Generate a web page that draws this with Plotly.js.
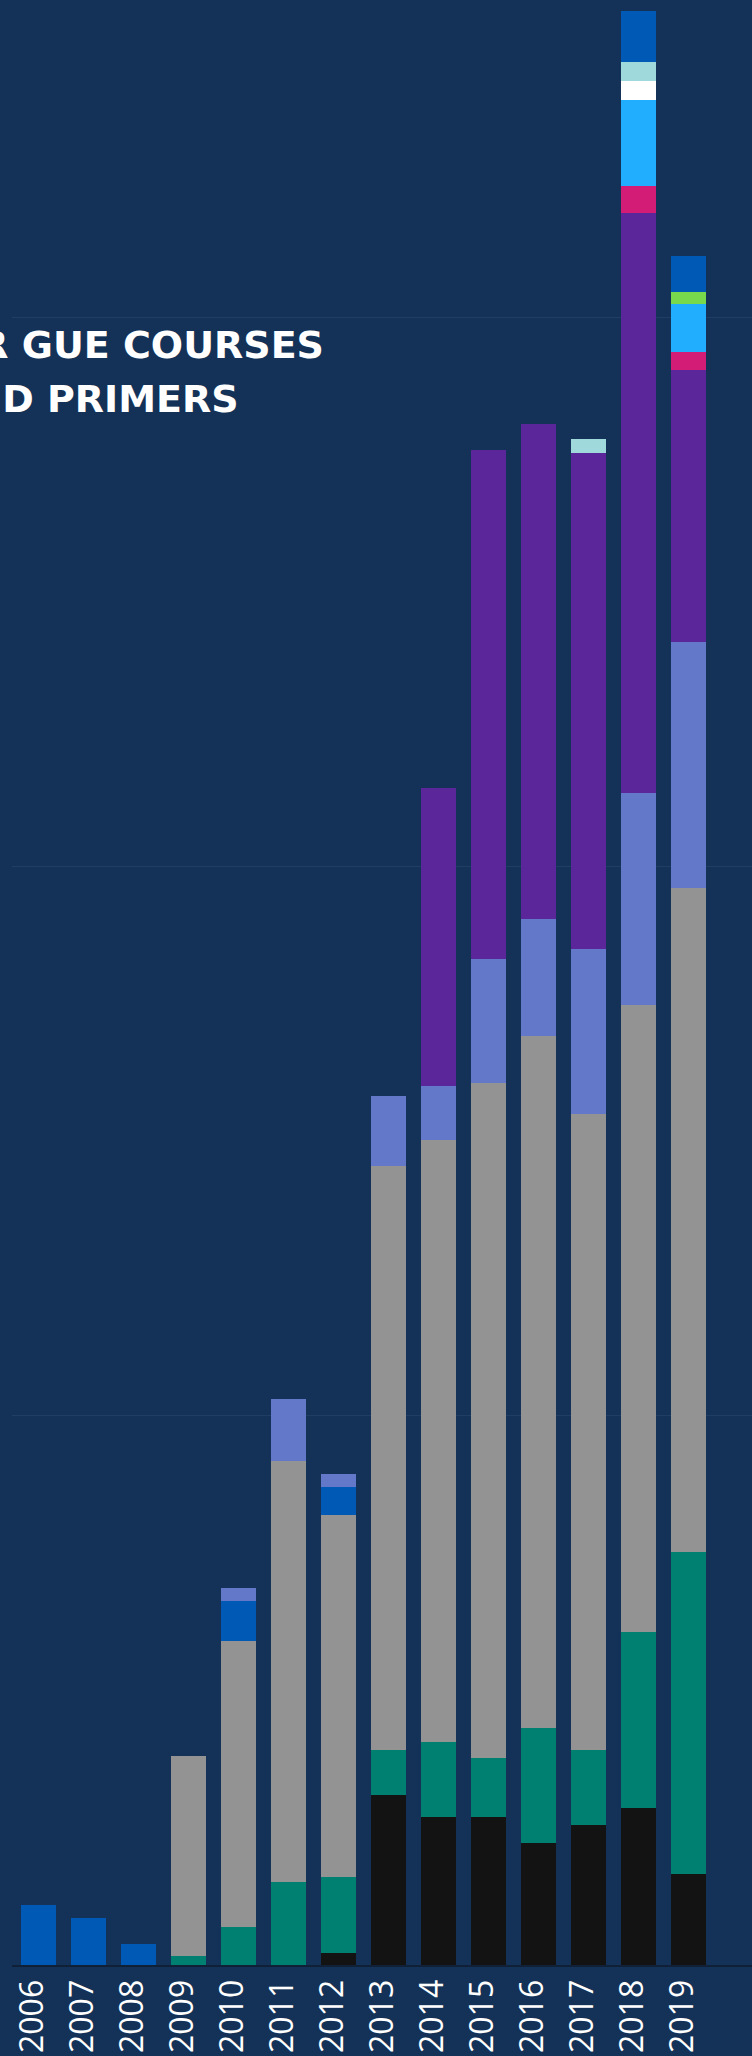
<!DOCTYPE html>
<html>
<head>
<meta charset="utf-8">
<script src="https://cdn.plot.ly/plotly-3.0.1.min.js"></script>
<style>
html,body{margin:0;padding:0;background:#143257;}
#chart{width:752px;height:2056px;}
</style>
</head>
<body>
<div id="chart"></div>
<script>
// Data
const years = ["2006","2007","2008","2009","2010","2011","2012","2013","2014","2015","2016","2017","2018","2019"];
const seriesBlack      = [0, 0, 0, 0, 0, 0, 11, 155, 135, 135, 111, 127, 143, 83];
const seriesTeal       = [0, 0, 0, 8, 35, 76, 69, 41, 68, 53, 105, 69, 160, 293];
const seriesGrey       = [0, 0, 0, 182, 260, 383, 330, 531, 548, 615, 630, 579, 571, 604];
const seriesBlue       = [55, 43, 19, 0, 36, 0, 25, 0, 0, 0, 0, 0, 0, 0];
const seriesPeriwinkle = [0, 0, 0, 0, 12, 56, 12, 64, 49, 113, 106, 150, 193, 224];
const seriesPurple     = [0, 0, 0, 0, 0, 0, 0, 0, 271, 463, 451, 451, 528, 248];
const seriesMagenta    = [0, 0, 0, 0, 0, 0, 0, 0, 0, 0, 0, 0, 24, 16];
const seriesLightBlue  = [0, 0, 0, 0, 0, 0, 0, 0, 0, 0, 0, 0, 79, 44];
const seriesWhite      = [0, 0, 0, 0, 0, 0, 0, 0, 0, 0, 0, 0, 17, 0];
const seriesLightTeal  = [0, 0, 0, 0, 0, 0, 0, 0, 0, 0, 0, 13, 17, 0];
const seriesGreen      = [0, 0, 0, 0, 0, 0, 0, 0, 0, 0, 0, 0, 0, 11];
const seriesBlueTop    = [0, 0, 0, 0, 0, 0, 0, 0, 0, 0, 0, 0, 47, 33];
const titleLines = ["FOR GUE COURSES", "AND PRIMERS"];

const stack = [
  {name: "Black", y: seriesBlack, color: "#131313"},
  {name: "Teal", y: seriesTeal, color: "#008070"},
  {name: "Grey", y: seriesGrey, color: "#939393"},
  {name: "Blue", y: seriesBlue, color: "#0059B5"},
  {name: "Periwinkle", y: seriesPeriwinkle, color: "#6478C9"},
  {name: "Purple", y: seriesPurple, color: "#5B2699"},
  {name: "Magenta", y: seriesMagenta, color: "#D31C75"},
  {name: "Light blue", y: seriesLightBlue, color: "#22AEFF"},
  {name: "White", y: seriesWhite, color: "#FFFFFF"},
  {name: "Light teal", y: seriesLightTeal, color: "#A0D9DB"},
  {name: "Green", y: seriesGreen, color: "#77D94B"},
  {name: "Blue top", y: seriesBlueTop, color: "#0059B5"}
];

const traces = stack.map(s => ({
  type: "bar",
  name: s.name,
  x: years,
  y: s.y,
  marker: {color: s.color, line: {width: 0}},
  hoverinfo: "skip"
}));

const layout = {
  width: 752,
  height: 2056,
  margin: {l: 12, r: 0, t: 0, b: 91, pad: 0},
  paper_bgcolor: "#143257",
  plot_bgcolor: "#143257",
  barmode: "stack",
  bargap: 0.3,
  showlegend: false,
  xaxis: {
    type: "category",
    range: [-0.526, 14.27],
    tickangle: -90,
    ticklabelshift: -6,
    tickfont: {family: "Open Sans", size: 32, color: "#FFFFFF"},
    showline: true,
    linecolor: "#0f2037",
    linewidth: 2,
    ticks: "",
    showgrid: false,
    zeroline: false
  },
  yaxis: {
    range: [0, 1788.6],
    tick0: 0,
    dtick: 500,
    showticklabels: false,
    showgrid: true,
    gridcolor: "#1f3e65",
    gridwidth: 1,
    zeroline: false,
    ticks: ""
  },
  annotations: [
    {text: titleLines[0], xref: "paper", yref: "paper", x: 0.424, y: 0.8244, xanchor: "right", yanchor: "middle", showarrow: false,
     font: {family: "DejaVu Sans", size: 38, color: "#FFFFFF", weight: "bold"}},
    {text: titleLines[1], xref: "paper", yref: "paper", x: 0.31, y: 0.7972, xanchor: "right", yanchor: "middle", showarrow: false,
     font: {family: "DejaVu Sans", size: 38, color: "#FFFFFF", weight: "bold"}}
  ]
};

Plotly.newPlot("chart", traces, layout, {staticPlot: true, displayModeBar: false});
</script>
</body>
</html>
